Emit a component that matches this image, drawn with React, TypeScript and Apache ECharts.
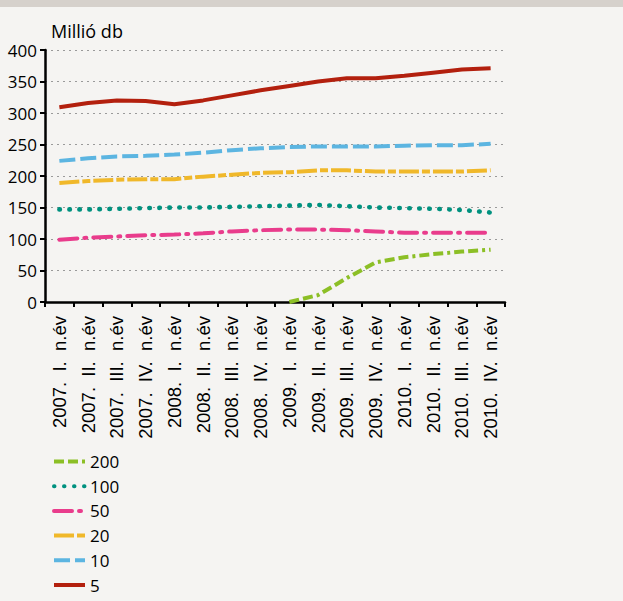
import React, { useEffect, useRef } from "react";
import * as echarts from "echarts";

const categories = [
  "2007. I. n.év", "2007. II. n.év", "2007. III. n.év", "2007. IV. n.év",
  "2008. I. n.év", "2008. II. n.év", "2008. III. n.év", "2008. IV. n.év",
  "2009. I. n.év", "2009. II. n.év", "2009. III. n.év", "2009. IV. n.év",
  "2010. I. n.év", "2010. II. n.év", "2010. III. n.év", "2010. IV. n.év",
];

const s200 = [null, null, null, null, null, null, null, null, 0, 11, 38, 63, 71, 76, 80, 83];
const s100 = [147, 147, 148, 149, 150, 150, 151, 152, 153, 154, 152, 150, 149, 148, 146, 142];
const s50 = [99, 102, 104, 106, 107, 109, 112, 114, 115, 115, 114, 112, 110, 110, 110, 110];
const s20 = [189, 192, 194, 195, 195, 199, 202, 205, 206, 209, 209, 207, 207, 207, 207, 209];
const s10 = [224, 228, 231, 232, 234, 237, 241, 244, 246, 247, 247, 247, 248, 249, 249, 251];
const s5 = [309, 316, 320, 319, 314, 320, 328, 336, 343, 350, 355, 355, 359, 364, 369, 371];

const yTicks = { min: 0, max: 400, interval: 50 };
const unitLabel = "Millió db";

export default function App() {
  const ref = useRef<HTMLDivElement>(null);
  useEffect(() => {
    document.body.style.margin = "0";
    const chart = echarts.init(ref.current!, null, { renderer: "svg" });
    const mk = (name: string, data: any[], color: string, type: any, cap: string = "butt", width = 4) => ({
      name,
      type: "line",
      data,
      symbol: "none",
      connectNulls: false,
      lineStyle: { color, width, type, cap },
      itemStyle: { color },
    });
    chart.setOption({
      animation: false,
      backgroundColor: "#f5f4f2",
      grid: { left: 45, right: 118, top: 50, bottom: 299, containLabel: false },
      graphic: [
        { type: "rect", left: 0, top: 0, shape: { x: 0, y: 0, width: 623, height: 7 }, style: { fill: "#d6d1cc" } },
        {
          type: "text",
          left: 51,
          top: 22,
          style: { text: unitLabel, fontSize: 18, fontFamily: "Open Sans", fill: "#000" },
        },
      ],
      xAxis: {
        type: "category",
        data: categories,
        boundaryGap: true,
        axisLine: { show: true, lineStyle: { color: "#000", width: 2.5 } },
        axisTick: { show: true, length: 5, interval: 0, lineStyle: { color: "#000", width: 2 } },
        axisLabel: {
          interval: 0,
          rotate: 90,
          margin: 14,
          fontSize: 18.5,
          fontFamily: "Liberation Sans",
          color: "#000",
          formatter: (v: string) => v.replace(/ /g, "\u00a0\u00a0"),
        },
        splitLine: { show: false },
      },
      yAxis: {
        type: "value",
        min: yTicks.min,
        max: yTicks.max,
        interval: yTicks.interval,
        axisLine: { show: true, lineStyle: { color: "#000", width: 2.5 } },
        axisTick: { show: true, length: 5, lineStyle: { color: "#000", width: 2 } },
        axisLabel: { fontSize: 17, margin: 8, fontFamily: "Open Sans", color: "#000" },
        splitLine: { show: true, lineStyle: { color: "#9a9a9a", width: 1.2, type: [2, 4] } },
      },
      legend: {
        orient: "vertical",
        left: 52,
        top: 453,
        height: 150,
        padding: 0,
        itemWidth: 31,
        itemHeight: 12,
        itemGap: 7.7,
        itemStyle: { opacity: 0 },
        lineStyle: { width: 4 },
        textStyle: { fontSize: 17, fontFamily: "Open Sans", color: "#000" },
        data: ["200", "100", "50", "20", "10", "5"],
      },
      series: [
        mk("5", s5, "#b3200e", "solid"),
        mk("10", s10, "#5cb5e1", [16, 5]),
        mk("20", s20, "#f0b82a", [20, 3, 8, 3]),
        mk("50", s50, "#e93c8c", [18, 7, 2, 7], "round"),
        mk("100", s100, "#00917f", [0.5, 9.5], "round", 4.6),
        mk("200", s200, "#8cbf26", [10, 4, 10, 4, 3, 4]),
      ],
    });
    return () => chart.dispose();
  }, []);
  return <div ref={ref} style={{ position: "fixed", left: 0, top: 0, width: 623, height: 601 }} />;
}
